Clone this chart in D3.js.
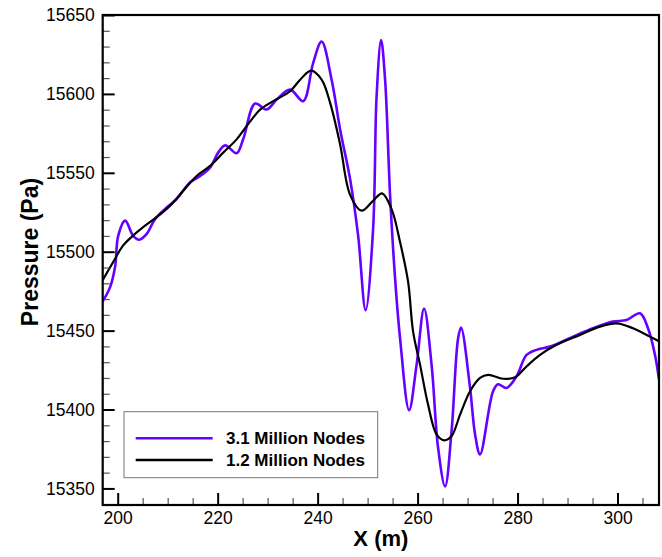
<!DOCTYPE html>
<html><head><meta charset="utf-8">
<script src="https://cdn.jsdelivr.net/npm/d3@7"></script>
<style>body{margin:0;background:#fff}svg{display:block}</style>
</head><body>
<script>
// Data
const seriesNames = ["3.1 Million Nodes", "1.2 Million Nodes"];
const fineX = [197,198.5,199.5,200.1,201.5,203.1,204.3,205.8,207.5,209.8,211.8,214.5,216.5,218.5,220.1,221.5,223.8,225.1,227.5,229.8,231.8,234.5,237.1,239.1,240.8,242.8,244.5,246.5,248.1,249.6,251.1,251.8,252.7,253.5,254.5,255.5,256.5,258.3,259.8,261.3,262.8,264.1,265.5,266.8,268.1,268.7,270.5,271.5,272.5,275.1,276.1,277.8,279.8,281.8,283.8,286.5,291.1,295.1,299.1,301.8,304.5,306.1,307.5,308.3];
const fineP = [15468.5,15477.7,15491,15510,15519.7,15510,15507.6,15511.3,15520.8,15528,15533.4,15544,15548,15553.4,15562.8,15567.4,15562.4,15571.2,15593.9,15590.1,15596.4,15602.7,15595.4,15619.5,15633.2,15609,15577.5,15546,15510.3,15463,15514.5,15598.5,15634.2,15609,15535.5,15483,15445,15399.6,15428.3,15464,15428.3,15375.8,15351.3,15386.4,15445,15451.9,15413.7,15384.2,15371.6,15411.6,15416,15413.7,15421,15434.6,15437.8,15439.9,15446.2,15451.5,15455.7,15456.7,15461,15451.5,15434.6,15419];
const coarseX = [197,199.1,201.1,203.1,205.1,207.8,210.5,213.1,215.8,218.5,221.1,223.8,225.8,228.5,231.1,234.5,236.5,238.7,240.8,242.5,244.5,246.5,248.8,251.1,252.9,254.8,256.5,258.1,259.1,260.5,262.1,263.8,265.3,266.8,268.5,270.5,272.5,274.1,277.1,279.5,281.8,284.5,287.8,292.5,296.5,299.8,303.1,306.5,308.5];
const coarseP = [15482,15493.5,15504,15510.3,15515.6,15521.9,15529.2,15538.6,15548,15554.4,15562.8,15571.2,15579.6,15590,15595.4,15601.7,15609,15614.7,15609,15594.3,15568,15536,15526,15532.3,15537,15527,15506,15481,15449.4,15428.3,15403.1,15384.2,15380.5,15383.2,15396.8,15411.6,15420,15422,15419.5,15420.4,15427.3,15434.6,15441,15447.3,15452.5,15454.6,15451.5,15446.2,15443];
const xTicks = [200,220,240,260,280,300];
const yTicks = [15350,15400,15450,15500,15550,15600,15650];
const colors = ["#6600ff", "#000000"];

const W = 662, H = 557;
const m = {left:102.7, right:659, top:15, bottom:505};
const x = d3.scaleLinear().domain([197, 308.3]).range([m.left, m.right]);
const y = d3.scaleLinear().domain([15339.5, 15650]).range([m.bottom, m.top]);

const svg = d3.select("body").append("svg").attr("width", W).attr("height", H);
const font = "Arial, 'Liberation Sans', Helvetica, sans-serif";

svg.append("clipPath").attr("id","clip").append("rect")
  .attr("x", m.left).attr("y", m.top).attr("width", m.right-m.left).attr("height", m.bottom-m.top);

const line = d3.line().x(d=>x(d[0])).y(d=>y(d[1])).curve(d3.curveCatmullRom.alpha(0.5));
const fine = fineX.map((v,i)=>[v, fineP[i]]);
const coarse = coarseX.map((v,i)=>[v, coarseP[i]]);

const g = svg.append("g").attr("clip-path","url(#clip)");
g.append("path").datum(fine).attr("d", line).attr("fill","none").attr("stroke", colors[0]).attr("stroke-width", 2.6);
g.append("path").datum(coarse).attr("d", line).attr("fill","none").attr("stroke", colors[1]).attr("stroke-width", 2.2);

// Axes (ticks inside)
const xMinor = d3.range(200, 308.3, 5).filter(v=>v%20!==0);
const yMinor = d3.range(15350, 15650, 10).filter(v=>v%50!==0);

const xAxis = svg.append("g").attr("transform", `translate(0,${m.bottom})`)
  .call(d3.axisBottom(x).tickValues(xTicks).tickSize(-12).tickPadding(19).tickFormat(d3.format("d")));
const xAxisMinor = svg.append("g").attr("transform", `translate(0,${m.bottom})`)
  .call(d3.axisBottom(x).tickValues(xMinor).tickSize(-7).tickFormat(""));
const yAxis = svg.append("g").attr("transform", `translate(${m.left},0)`)
  .call(d3.axisLeft(y).tickValues(yTicks).tickSize(-12).tickPadding(8).tickFormat(d3.format("d")));
const yAxisMinor = svg.append("g").attr("transform", `translate(${m.left},0)`)
  .call(d3.axisLeft(y).tickValues(yMinor).tickSize(-7).tickFormat(""));

[xAxis, yAxis].forEach(a=>{
  a.select(".domain").remove();
  a.selectAll(".tick line").attr("stroke","#000").attr("stroke-width",2);
  a.selectAll(".tick text").attr("font-family", font).attr("font-size", 17.5).attr("fill","#000");
});
xAxis.selectAll(".tick text").attr("dy", "0");
[xAxisMinor, yAxisMinor].forEach(a=>{
  a.select(".domain").remove();
  a.selectAll(".tick line").attr("stroke","#555").attr("stroke-width",1.2);
});
svg.append("rect").attr("x", m.left).attr("y", m.top).attr("width", m.right-m.left).attr("height", m.bottom-m.top)
  .attr("fill","none").attr("stroke","#000").attr("stroke-width",2.2);

// Axis titles
svg.append("text").attr("x", (m.left+m.right)/2).attr("y", 546).attr("text-anchor","middle")
  .attr("font-family", font).attr("font-weight","bold").attr("font-size", 22).text("X (m)");
svg.append("text").attr("transform", `translate(38,${(m.top+m.bottom)/2 - 8}) rotate(-90)`).attr("text-anchor","middle")
  .attr("font-family", font).attr("font-weight","bold").attr("font-size", 23).text("Pressure (Pa)");

// Legend
const lg = svg.append("g");
lg.append("rect").attr("x",124).attr("y",411.7).attr("width",253.7).attr("height",66)
  .attr("fill","#fff").attr("stroke","#777").attr("stroke-width",1);
const ly = [438.3, 460];
seriesNames.forEach((n,i)=>{
  lg.append("line").attr("x1",135.7).attr("x2",212.7).attr("y1",ly[i]).attr("y2",ly[i])
    .attr("stroke",colors[i]).attr("stroke-width",2.6);
  lg.append("text").attr("x",226).attr("y",ly[i]).attr("dy","0.36em")
    .attr("font-family",font).attr("font-weight","bold").attr("font-size",17).text(n);
});
</script>
</body></html>
